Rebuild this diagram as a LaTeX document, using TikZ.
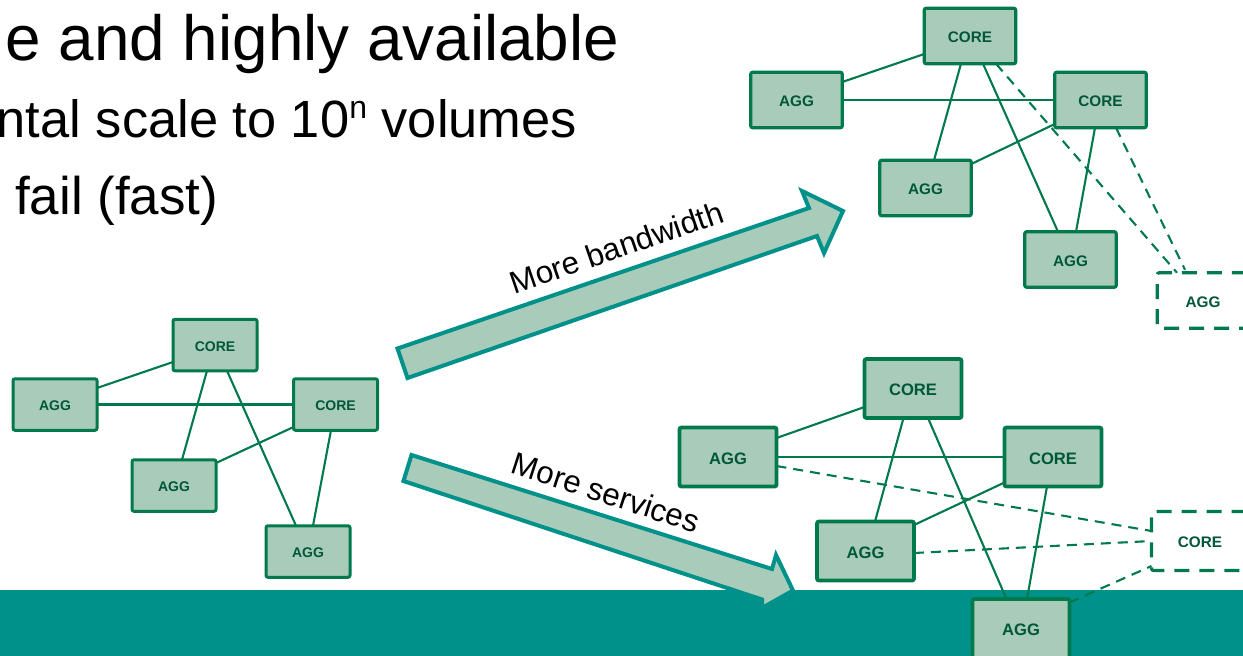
\documentclass[tikz,border=0pt]{standalone}
\usepackage{fontspec}
\setmainfont{Liberation Sans}
\definecolor{bandteal}{HTML}{00918A}
\definecolor{boxfill}{HTML}{A8CCB9}
\definecolor{boxline}{HTML}{007A4D}
\definecolor{boxtext}{HTML}{00573A}
\tikzset{
  x=1pt,y=-1pt,
  netbox/.style={draw=boxline,fill=boxfill,text=boxtext,rounded corners=2pt,inner sep=0pt,outer sep=0pt,font=\bfseries},
  ghostbox/.style={netbox,fill=none,dash pattern=on 15pt off 10pt},
  boxS/.style={line width=3pt,minimum width=84pt,minimum height=51.5pt,text height=12pt,text depth=0pt,font=\bfseries\fontsize{14}{16}\selectfont},
  boxM/.style={line width=3.2pt,minimum width=91.5pt,minimum height=55.5pt,text height=13pt,text depth=0pt,font=\bfseries\fontsize{15.3}{18}\selectfont},
  boxL/.style={line width=3.8pt,minimum width=97pt,minimum height=59pt,text height=14pt,text depth=0pt,font=\bfseries\fontsize{16.6}{19}\selectfont},
  link/.style={draw=boxline,line width=2.1pt},
  ghostlink/.style={link,dash pattern=on 10pt off 7pt},
  bigarrow/.style={draw=bandteal,fill=boxfill,line width=4pt,miter limit=10},
  headline/.style={inner sep=0pt,font=\fontsize{63.8}{70}\selectfont},
  subline/.style={inner sep=0pt,font=\fontsize{52.4}{60}\selectfont},
  thirdline/.style={inner sep=0pt,font=\fontsize{53}{60}\selectfont},
  arrowlabel/.style={inner sep=0pt,font=\fontsize{31.4}{38}\selectfont},
}
\begin{document}
\begin{tikzpicture}
\clip (0,0) rectangle (1243,656);
\fill[white] (0,0) rectangle (1243,656);
\fill[bandteal] (0,590) rectangle (1243,656);

% title text
\node[headline,anchor=base east] (t1) at (619.5,60) {e and highly available};
\node[subline,anchor=base east] (t2) at (577,137) {ntal scale to 10\raisebox{.36em}{\fontsize{32}{32}\selectfont n} volumes};
\node[thirdline,anchor=base west] (t3) at (15,214) {fail (fast)};

% big arrows
\draw[bigarrow] (397.5,348.5) -- (407.5,378) -- (817,236) -- (824,253) -- (843,211) -- (802,191) -- (809,208) -- cycle;
\draw[bigarrow] (411.5,455) -- (403.5,481) -- (762,599.5) -- (762,608) -- (793,590.5) -- (776,555) -- (772,569) -- cycle;
\node[arrowlabel,rotate=19,anchor=base] (lb) at (620,258) {More bandwidth};
\node[arrowlabel,rotate=-18,anchor=base] (ls) at (602.5,503) {More services};

% left graph
\node[netbox,boxS] (lc1) at (215,345) {CORE};
\node[netbox,boxS] (la1) at (55,404.5) {AGG};
\node[netbox,boxS] (lc2) at (335.5,404.5) {CORE};
\node[netbox,boxS] (la2) at (174,485.5) {AGG};
\node[netbox,boxS] (la3) at (308,551.5) {AGG};
\draw[link] ([yshift=16.5]la1.east) -- ([yshift=-17]lc1.west);
\draw[link] (la1.east) -- (lc2.west);
\draw[link] ([xshift=-8]lc1.south) -- ([xshift=8]la2.north);
\draw[link] ([xshift=12]lc1.south) -- ([xshift=-12]la3.north);
\draw[link] ([yshift=-22.5]lc2.west) -- ([yshift=22.5]la2.east);
\draw[link] ([xshift=-4.5]lc2.south) -- ([xshift=5]la3.north);

% upper right graph
\node[netbox,boxM] (tc1) at (970,36) {CORE};
\node[netbox,boxM] (ta1) at (796.5,100) {AGG};
\node[netbox,boxM] (tc2) at (1100.5,100) {CORE};
\node[netbox,boxM] (ta2) at (925.5,188) {AGG};
\node[netbox,boxM] (ta3) at (1070.5,259.5) {AGG};
\node[ghostbox,boxM,fill=none] (td) at (1203,300.5) {AGG};
\draw[link] ([yshift=18]ta1.east) -- ([yshift=-18]tc1.west);
\draw[link] (ta1.east) -- (tc2.west);
\draw[link] ([xshift=-9]tc1.south) -- ([xshift=8.5]ta2.north);
\draw[link] ([xshift=13]tc1.south) -- ([xshift=-12.5]ta3.north);
\draw[link] ([yshift=-24]tc2.west) -- ([yshift=24]ta2.east);
\draw[link] ([xshift=-5.5]tc2.south) -- ([xshift=5.5]ta3.north);
\draw[ghostlink] ([xshift=26]tc1.south) -- ([xshift=-26]td.north);
\draw[ghostlink] ([xshift=15.5]tc2.south) -- ([xshift=-18,yshift=3]td.north);

% lower right graph
\node[netbox,boxL] (bc1) at (913,388.5) {CORE};
\node[netbox,boxL] (ba1) at (728,457) {AGG};
\node[netbox,boxL] (bc2) at (1053,457) {CORE};
\node[netbox,boxL] (ba2) at (865.5,551) {AGG};
\node[netbox,boxL] (ba3) at (1021,628.5) {AGG};
\node[ghostbox,boxM,fill=none,minimum width=97pt,minimum height=59pt] (bd) at (1200,541) {CORE};
\draw[link] ([yshift=19]ba1.east) -- ([yshift=-18.5]bc1.west);
\draw[link] (ba1.east) -- (bc2.west);
\draw[link] ([xshift=-9.5]bc1.south) -- ([xshift=9.5]ba2.north);
\draw[link] ([xshift=15]bc1.south) -- ([xshift=-14.5]ba3.north);
\draw[link] ([yshift=-25.5]bc2.west) -- ([yshift=26]ba2.east);
\draw[link] ([xshift=-6]bc2.south) -- ([xshift=6]ba3.north);
\draw[ghostlink] ([yshift=-9]ba1.east) -- ([yshift=10]bd.west);
\draw[ghostlink] ([yshift=-2]ba2.east) -- (bd.west);
\draw[ghostlink] ([yshift=26]ba3.east) -- ([yshift=-25]bd.west);
\end{tikzpicture}
\end{document}
